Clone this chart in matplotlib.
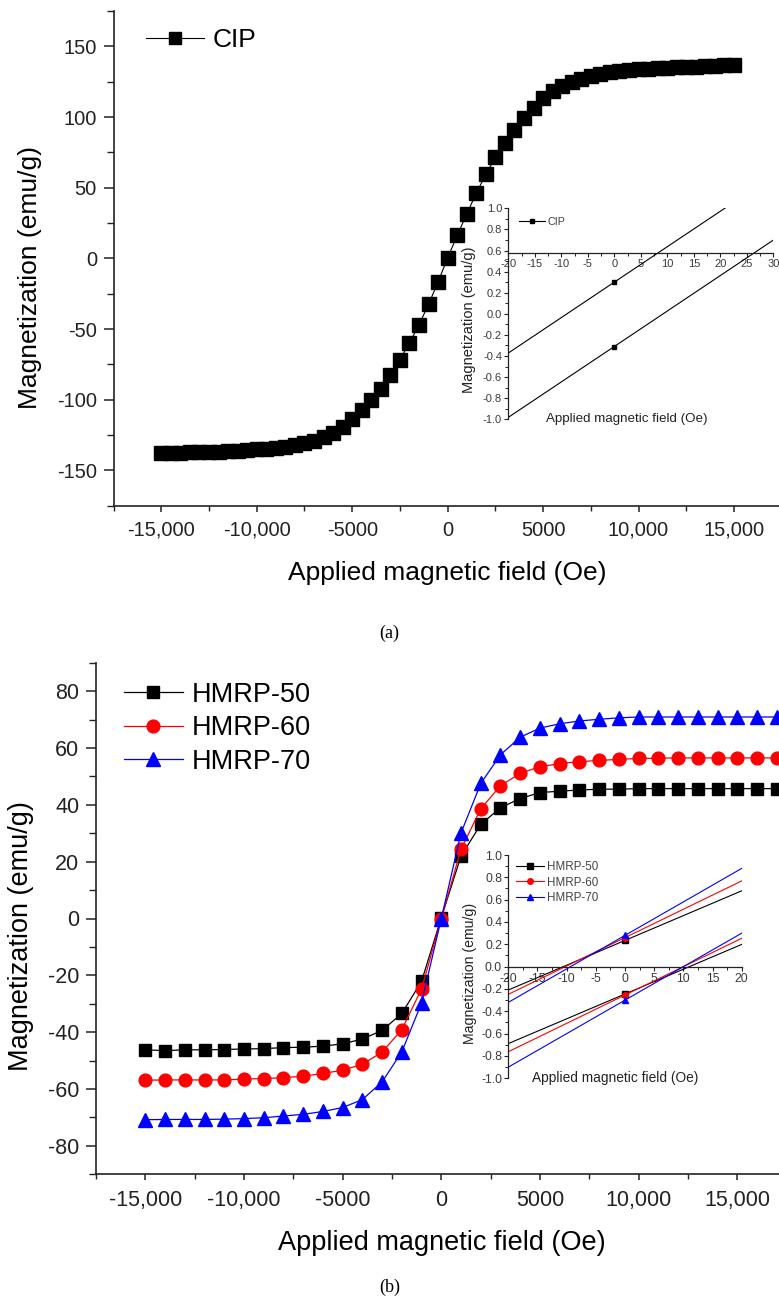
import matplotlib
matplotlib.use('Agg')
import matplotlib.pyplot as plt
from matplotlib.ticker import MultipleLocator, FixedLocator, FixedFormatter

plt.rcParams['font.family'] = ['Liberation Sans', 'DejaVu Sans']
plt.rcParams['axes.unicode_minus'] = False

# ---------------- data: panel (a) CIP ----------------
cip_field = [-15000, -14500, -14000, -13500, -13000, -12500, -12000, -11500, -11000, -10500,
             -10000, -9500, -9000, -8500, -8000, -7500, -7000, -6500, -6000, -5500,
             -5000, -4500, -4000, -3500, -3000, -2500, -2000, -1500, -1000, -500,
             0, 500, 1000, 1500, 2000, 2500, 3000, 3500, 4000, 4500,
             5000, 5500, 6000, 6500, 7000, 7500, 8000, 8500, 9000, 9500,
             10000, 10500, 11000, 11500, 12000, 12500, 13000, 13500, 14000, 14500, 15000]
cip_mag = [-137.5, -137.5, -137.5, -137.2, -137.2, -137.0, -136.7, -136.5, -136.2, -135.7,
           -135.2, -134.7, -133.9, -133.2, -131.9, -130.6, -129.1, -126.6, -123.5, -119.2,
           -113.9, -107.3, -100.3, -92.7, -82.5, -71.6, -59.7, -47.1, -32.4, -16.7,
           0.4, 16.2, 31.4, 46.1, 59.5, 71.4, 81.5, 91.1, 99.2, 106.3,
           113.2, 118.2, 122.0, 125.0, 127.0, 129.0, 130.6, 131.6, 132.7, 133.2,
           133.7, 134.2, 134.7, 135.0, 135.2, 135.4, 135.7, 136.0, 136.2, 136.5, 136.5]

# inset (a): the two branches around H = 0
cip_inset_field = [-500, 0, 500]
cip_inset_up = [-16.5, 0.30, 17.1]
cip_inset_down = [-17.1, -0.31, 16.5]

# ---------------- data: panel (b) HMRP ----------------
hmrp_field = [-15000, -14000, -13000, -12000, -11000, -10000, -9000, -8000, -7000, -6000,
              -5000, -4000, -3000, -2000, -1000, 0, 1000, 2000, 3000, 4000,
              5000, 6000, 7000, 8000, 9000, 10000, 11000, 12000, 13000, 14000,
              15000, 16000, 17000]
hmrp50 = [-46.2, -46.5, -46.2, -46.2, -46.1, -45.9, -45.8, -45.4, -45.3, -44.9,
          -44.1, -42.4, -39.4, -33.4, -22.1, 0.3, 22.0, 33.1, 39.0, 42.2,
          44.3, 44.8, 45.2, 45.5, 45.5, 45.7, 45.7, 45.7, 45.7, 45.7,
          45.7, 45.7, 45.7]
hmrp60 = [-56.9, -56.8, -56.8, -56.8, -56.8, -56.5, -56.3, -56.0, -55.5, -54.5,
          -53.4, -51.3, -47.0, -39.1, -24.8, 0.0, 24.4, 38.6, 46.7, 51.1,
          53.4, 54.5, 55.2, 55.6, 56.0, 56.3, 56.4, 56.5, 56.5, 56.5,
          56.5, 56.5, 56.5]
hmrp70 = [-70.8, -70.7, -70.7, -70.7, -70.6, -70.4, -70.1, -69.5, -68.9, -67.9,
          -66.5, -63.7, -57.5, -46.9, -29.7, 0.0, 30.1, 47.5, 57.6, 63.8,
          67.0, 68.5, 69.5, 70.1, 70.6, 70.9, 70.9, 70.9, 70.9, 70.9,
          70.9, 70.9, 70.9]

# inset (b): branches around H = 0
hmrp_inset_field = [-1000, 0, 1000]
hmrp50_up = [-21.97, 0.235, 22.44]
hmrp50_down = [-22.45, -0.245, 21.96]
hmrp60_up = [-25.14, 0.26, 25.66]
hmrp60_down = [-25.65, -0.254, 25.15]
hmrp70_up = [-29.72, 0.28, 30.28]
hmrp70_down = [-30.30, -0.30, 29.70]

x_ticks = [-15000, -10000, -5000, 0, 5000, 10000, 15000]
x_tick_labels = ['-15,000', '-10,000', '-5000', '0', '5000', '10,000', '15,000']
a_y_ticks = [-150, -100, -50, 0, 50, 100, 150]
b_y_ticks = [-80, -60, -40, -20, 0, 20, 40, 60, 80]
xlabel = 'Applied magnetic field (Oe)'
ylabel = 'Magnetization (emu/g)'

# ---------------- figure ----------------
W, H = 779, 1301
fig = plt.figure(figsize=(W / 100, H / 100), dpi=100)


def rect(l, t, r, b):
    return [l / W, 1 - b / H, (r - l) / W, (b - t) / H]


def style_main(ax, fs):
    for s in ['top', 'right']:
        ax.spines[s].set_visible(False)
    for s in ['left', 'bottom']:
        ax.spines[s].set_linewidth(1.2)
        ax.spines[s].set_color('#222222')
    ax.tick_params(axis='y', which='major', direction='out', length=7, width=1.1,
                   labelsize=fs, pad=5, colors='#222222')
    ax.tick_params(axis='y', which='minor', direction='out', length=5, width=1.0, colors='#222222')
    ax.tick_params(axis='x', which='major', direction='out', length=4, width=1.1,
                   labelsize=fs, pad=7, colors='#222222')
    ax.tick_params(axis='x', which='minor', direction='out', length=3.5, width=1.0, colors='#222222')
    ax.xaxis.set_major_locator(FixedLocator(x_ticks))
    ax.xaxis.set_major_formatter(FixedFormatter(x_tick_labels))
    ax.xaxis.set_minor_locator(MultipleLocator(2500))


def style_inset(ax, fs):
    ax.set_facecolor('none')
    for s in ['top', 'right']:
        ax.spines[s].set_visible(False)
    for s in ['left', 'bottom']:
        ax.spines[s].set_linewidth(0.9)
        ax.spines[s].set_color('#222222')
    ax.tick_params(axis='both', which='major', direction='out', length=3, width=0.8,
                   labelsize=fs, pad=1.5, colors='#222222', labelcolor='#3a3a3a')
    ax.tick_params(axis='both', which='minor', direction='out', length=2, width=0.7, colors='#222222')
    ax.xaxis.set_major_locator(MultipleLocator(5))
    ax.xaxis.set_minor_locator(MultipleLocator(2.5))
    ax.yaxis.set_major_locator(MultipleLocator(0.2))
    ax.yaxis.set_minor_locator(MultipleLocator(0.1))
    ax.yaxis.set_major_formatter(matplotlib.ticker.FormatStrFormatter('%.1f'))


# ======== panel (a) ========
axa = fig.add_axes(rect(113.6, 11, 781.7, 505.7))
axa.plot(cip_field, cip_mag, color='black', lw=0.8, marker='s', ms=9.5,
         mfc='black', mec='black', label='CIP')
axa.set_xlim(-17500, 17500)
axa.set_ylim(-175, 175)
style_main(axa, 14.5)
axa.yaxis.set_major_locator(FixedLocator(a_y_ticks))
axa.yaxis.set_minor_locator(MultipleLocator(25))
axa.set_xlabel(xlabel, fontsize=19)
axa.set_ylabel(ylabel, fontsize=19)
axa.xaxis.set_label_coords(0.5, -0.136)
axa.xaxis.label.set_va('center')
axa.yaxis.set_label_coords(-0.125, 0.462)
axa.yaxis.label.set_va('center')
axa.legend(loc='upper left', bbox_to_anchor=(0.049, 0.965), frameon=False, fontsize=19,
           handlelength=2.2, handletextpad=0.3, borderpad=0, borderaxespad=0, markerscale=0.9)

# inset (a)
ia = fig.add_axes(rect(508.3, 208.3, 773.3, 419.3))
style_inset(ia, 8)
ia.plot(cip_inset_field, cip_inset_up, color='black', lw=0.8, marker='s', ms=3.2, label='CIP')
ia.plot(cip_inset_field, cip_inset_down, color='black', lw=0.8, marker='s', ms=3.2)
ia.set_xlim(-20, 30)
ia.set_ylim(-1.0, 1.0)
ia.spines['bottom'].set_position(('data', 0.58))
ia.set_xticks([-20, -15, -10, -5, 0, 5, 10, 15, 20, 25, 30])
ia.set_xticklabels(['-20', '-15', '-10', '-5', '0', '5', '10', '15', '20', '25', '30'])
ia.set_ylabel(ylabel, fontsize=10.5, color='#222222')
ia.yaxis.set_label_coords(-0.15, 0.47)
ia.yaxis.label.set_va('center')
ia.text(0.447, 0.0, xlabel, transform=ia.transAxes, fontsize=9.6, ha='center', va='center',
        color='#222222')
ia.legend(loc='upper left', bbox_to_anchor=(0.04, 0.96), frameon=False, fontsize=7.8,
          handlelength=2.4, handletextpad=0.2, borderpad=0, borderaxespad=0, labelcolor='#444444')

# ======== panel (b) ========
axb = fig.add_axes(rect(96, 662.7, 786.6, 1174.3))
axb.plot(hmrp_field, hmrp50, color='black', lw=0.9, marker='s', ms=8.8, label='HMRP-50')
axb.plot(hmrp_field, hmrp60, color='red', lw=0.9, marker='o', ms=9.2, label='HMRP-60')
axb.plot(hmrp_field, hmrp70, color='blue', lw=0.9, marker='^', ms=9.8, label='HMRP-70')
axb.set_xlim(-17500, 17500)
axb.set_ylim(-90, 90)
style_main(axb, 15.5)
axb.yaxis.set_major_locator(FixedLocator(b_y_ticks))
axb.yaxis.set_minor_locator(MultipleLocator(10))
axb.set_xlabel(xlabel, fontsize=19.5)
axb.set_ylabel(ylabel, fontsize=19.5)
axb.xaxis.set_label_coords(0.501, -0.134)
axb.xaxis.label.set_va('center')
axb.yaxis.set_label_coords(-0.108, 0.465)
axb.yaxis.label.set_va('center')
axb.legend(loc='upper left', bbox_to_anchor=(0.040, 0.963), frameon=False, fontsize=19.5,
           handlelength=2.2, handletextpad=0.3, labelspacing=0.28, borderpad=0, borderaxespad=0)

# inset (b)
ib = fig.add_axes(rect(508.3, 855, 741.7, 1078.3))
style_inset(ib, 8.8)
ib.plot(hmrp_inset_field, hmrp50_up, color='black', lw=0.8, marker='s', ms=4, label='HMRP-50')
ib.plot(hmrp_inset_field, hmrp50_down, color='black', lw=0.8, marker='s', ms=4)
ib.plot(hmrp_inset_field, hmrp60_up, color='red', lw=0.8, marker='o', ms=4, label='HMRP-60')
ib.plot(hmrp_inset_field, hmrp60_down, color='red', lw=0.8, marker='o', ms=4)
ib.plot(hmrp_inset_field, hmrp70_up, color='blue', lw=0.8, marker='^', ms=4.5, label='HMRP-70')
ib.plot(hmrp_inset_field, hmrp70_down, color='blue', lw=0.8, marker='^', ms=4.5)
ib.set_xlim(-20, 20)
ib.set_ylim(-1.0, 1.0)
ib.spines['bottom'].set_position(('data', 0.0))
ib.set_xticks([-20, -15, -10, -5, 0, 5, 10, 15, 20])
ib.set_xticklabels(['-20', '-15', '-10', '-5', '0', '5', '10', '15', '20'])
ib.set_ylabel(ylabel, fontsize=10.2, color='#222222')
ib.yaxis.set_label_coords(-0.165, 0.47)
ib.yaxis.label.set_va('center')
ib.text(0.457, 0.0, xlabel, transform=ib.transAxes, fontsize=9.9, ha='center', va='center',
        color='#222222')
ib.legend(loc='upper left', bbox_to_anchor=(0.035, 0.972), frameon=False, fontsize=8.4,
          handlelength=2.4, handletextpad=0.2, labelspacing=0.28, borderpad=0, borderaxespad=0,
          labelcolor='#444444')

# captions
fig.text(389.5 / W, 1 - 633 / H, '(a)', fontsize=13, ha='center', va='center',
         family=['Liberation Serif', 'DejaVu Serif'])
fig.text(389.5 / W, 1 - 1287 / H, '(b)', fontsize=13, ha='center', va='center',
         family=['Liberation Serif', 'DejaVu Serif'])

fig.savefig('out.png', dpi=100)
